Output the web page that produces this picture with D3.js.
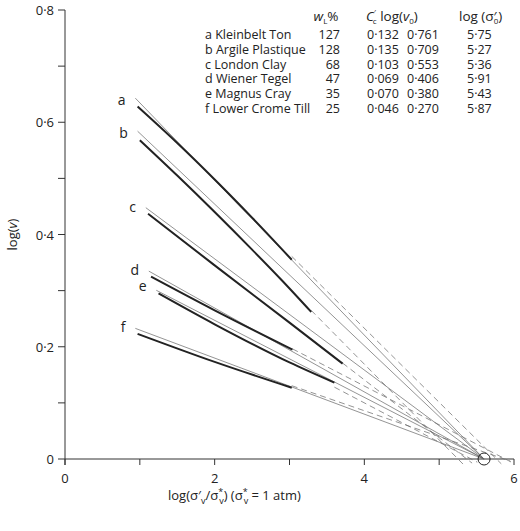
<!DOCTYPE html>
<html><head><meta charset="utf-8">
<script src="https://cdn.jsdelivr.net/npm/d3@7.9.0/dist/d3.min.js"></script>
<style>body{margin:0;background:#fff}text{font-family:"Open Sans",sans-serif;fill:#222}</style>
</head><body><svg id="chart" width="520" height="531"></svg>
<script>
const soils = ['a Kleinbelt Ton', 'b Argile Plastique', 'c London Clay', 'd Wiener Tegel', 'e Magnus Cray', 'f Lower Crome Till'];
const letters = ['a', 'b', 'c', 'd', 'e', 'f'];
const wL = ['127', '128', '68', '47', '35', '25'];
const cc = [0.132, 0.135, 0.103, 0.069, 0.070, 0.046];
const logV0 = [0.761, 0.709, 0.553, 0.406, 0.380, 0.270];
const logSigma0 = [5.75, 5.27, 5.36, 5.91, 5.43, 5.87];
const measured = [
  [[0.97, 0.628], [1.5, 0.563], [2.03, 0.494], [2.5, 0.43], [3.03, 0.355]],
  [[1.0, 0.568], [1.5, 0.505], [2.0, 0.44], [2.5, 0.373], [2.9, 0.318], [3.29, 0.262]],
  [[1.11, 0.437], [2.0, 0.345], [3.0, 0.243], [3.71, 0.17]],
  [[1.15, 0.325], [2.0, 0.265], [3.04, 0.195]],
  [[1.25, 0.295], [2.0, 0.24], [3.0, 0.172], [3.6, 0.136]],
  [[0.97, 0.223], [2.0, 0.173], [3.03, 0.127]],
];
const convergence = [5.6, 0];
const xTicks = [0, 1, 2, 3, 4, 5, 6];
const yTicks = [0, 0.1, 0.2, 0.3, 0.4, 0.5, 0.6, 0.7, 0.8];

const fmt = (d) => String(d).replace('.', '·');
const svg = d3.select('#chart');
const x = d3.scaleLinear().domain([0, 6]).range([65, 514]);
const y = d3.scaleLinear().domain([0, 0.8]).range([459, 10]);

// axes
svg.append('line').attr('x1', x(0)).attr('x2', x(6)).attr('y1', y(0)).attr('y2', y(0)).attr('stroke', '#333');
svg.append('line').attr('x1', x(0)).attr('x2', x(0)).attr('y1', y(0) + 6).attr('y2', y(0.8)).attr('stroke', '#333');
svg.selectAll('.xt').data(xTicks).join('line')
  .attr('x1', (d) => x(d)).attr('x2', (d) => x(d)).attr('y1', y(0)).attr('y2', y(0) + 6).attr('stroke', '#333');
svg.selectAll('.xl').data(xTicks.filter((d) => d % 2 === 0)).join('text')
  .attr('x', (d) => x(d)).attr('y', y(0) + 24).attr('text-anchor', 'middle').attr('font-size', 13).text(fmt);
svg.selectAll('.yt').data(yTicks).join('line')
  .attr('x1', x(0) - 7).attr('x2', x(0)).attr('y1', (d) => y(d)).attr('y2', (d) => y(d)).attr('stroke', '#333');
svg.selectAll('.yl').data(yTicks.filter((d, i) => i % 2 === 0)).join('text')
  .attr('x', x(0) - 11).attr('y', (d) => y(d) + 5).attr('text-anchor', 'end').attr('font-size', 13).text(fmt);
svg.append('text').attr('transform', `translate(17,${y(0.4)}) rotate(-90)`).attr('text-anchor', 'middle').attr('font-size', 13)
  .html('log(<tspan font-style="italic">v</tspan>)');

// x label built piece by piece to keep sub/superscripts apart
const xl = svg.append('text').attr('x', 168).attr('y', 500).attr('font-size', 13);
xl.append('tspan').text('log(σ′');
xl.append('tspan').attr('font-size', 9).attr('dy', 4).text('v');
xl.append('tspan').attr('dy', -4).text('/σ');
xl.append('tspan').attr('font-size', 9).attr('dy', -5).text('*');
xl.append('tspan').attr('font-size', 9).attr('dy', 9).attr('dx', -4).text('v');
xl.append('tspan').attr('dy', -4).text(')  (σ');
xl.append('tspan').attr('font-size', 9).attr('dy', -5).text('*');
xl.append('tspan').attr('font-size', 9).attr('dy', 9).attr('dx', -4).text('v');
xl.append('tspan').attr('dy', -4).text(' = 1 atm)');

const fit = (i, xv) => logV0[i] - cc[i] * xv;
soils.forEach((s, i) => {
  const pts = measured[i];
  const x0 = pts[0][0] - 0.03;
  svg.append('line').attr('x1', x(x0)).attr('y1', y(fit(i, x0) + 0.006))
    .attr('x2', x(convergence[0])).attr('y2', y(convergence[1])).attr('stroke', '#666').attr('stroke-width', 0.7);
  const xe = pts[pts.length - 1][0];
  svg.append('line').attr('x1', x(xe)).attr('y1', y(fit(i, xe)))
    .attr('x2', x(logSigma0[i] + 0.08)).attr('y2', y(fit(i, logSigma0[i] + 0.08)))
    .attr('stroke', '#666').attr('stroke-width', 0.7).attr('stroke-dasharray', '6,4');
  svg.append('path').datum(pts).attr('fill', 'none').attr('stroke', '#222').attr('stroke-width', 2)
    .attr('d', d3.line().x((d) => x(d[0])).y((d) => y(d[1])).curve(d3.curveMonotoneX));
  svg.append('text').attr('x', x(pts[0][0]) - 12).attr('y', y(pts[0][1]) - 2).attr('text-anchor', 'end')
    .attr('font-size', 14).text(letters[i]);
});
svg.append('circle').attr('cx', x(convergence[0])).attr('cy', y(convergence[1])).attr('r', 6)
  .attr('fill', 'none').attr('stroke', '#222');

// table
const tbl = svg.append('g').attr('font-size', 12.5);
tbl.append('text').attr('x', 326).attr('y', 21).attr('text-anchor', 'middle').attr('font-size', 13.5)
  .html('<tspan font-style="italic">w</tspan><tspan font-size="8" dy="3">L</tspan><tspan dy="-3">%</tspan>');
const hc = tbl.append('text').attr('x', 366).attr('y', 21).attr('font-size', 13.5);
hc.append('tspan').attr('font-style', 'italic').text('C');
hc.append('tspan').attr('font-size', 8).attr('dy', -6).text('′');
hc.append('tspan').attr('font-size', 8).attr('dy', 9).attr('dx', -3).text('c');
hc.append('tspan').attr('dy', -3).text(' log(');
hc.append('tspan').attr('font-style', 'italic').text('v');
hc.append('tspan').attr('font-size', 8).attr('dy', 3).text('0');
hc.append('tspan').attr('dy', -3).text(')');
const hs = tbl.append('text').attr('x', 459).attr('y', 21).attr('font-size', 13.5);
hs.append('tspan').text('log (σ′');
hs.append('tspan').attr('font-size', 8).attr('dy', 3).attr('dx', -3).text('0');
hs.append('tspan').attr('dy', -3).text(')');
soils.forEach((s, i) => {
  const ty = 39 + i * 14.8;
  tbl.append('text').attr('x', 205).attr('y', ty).text(s);
  tbl.append('text').attr('x', 340).attr('y', ty).attr('text-anchor', 'end').text(wL[i]);
  tbl.append('text').attr('x', 367).attr('y', ty).text(fmt(cc[i].toFixed(3)));
  tbl.append('text').attr('x', 407).attr('y', ty).text(fmt(logV0[i].toFixed(3)));
  tbl.append('text').attr('x', 467).attr('y', ty).text(fmt(logSigma0[i].toFixed(2)));
});
</script></body></html>
